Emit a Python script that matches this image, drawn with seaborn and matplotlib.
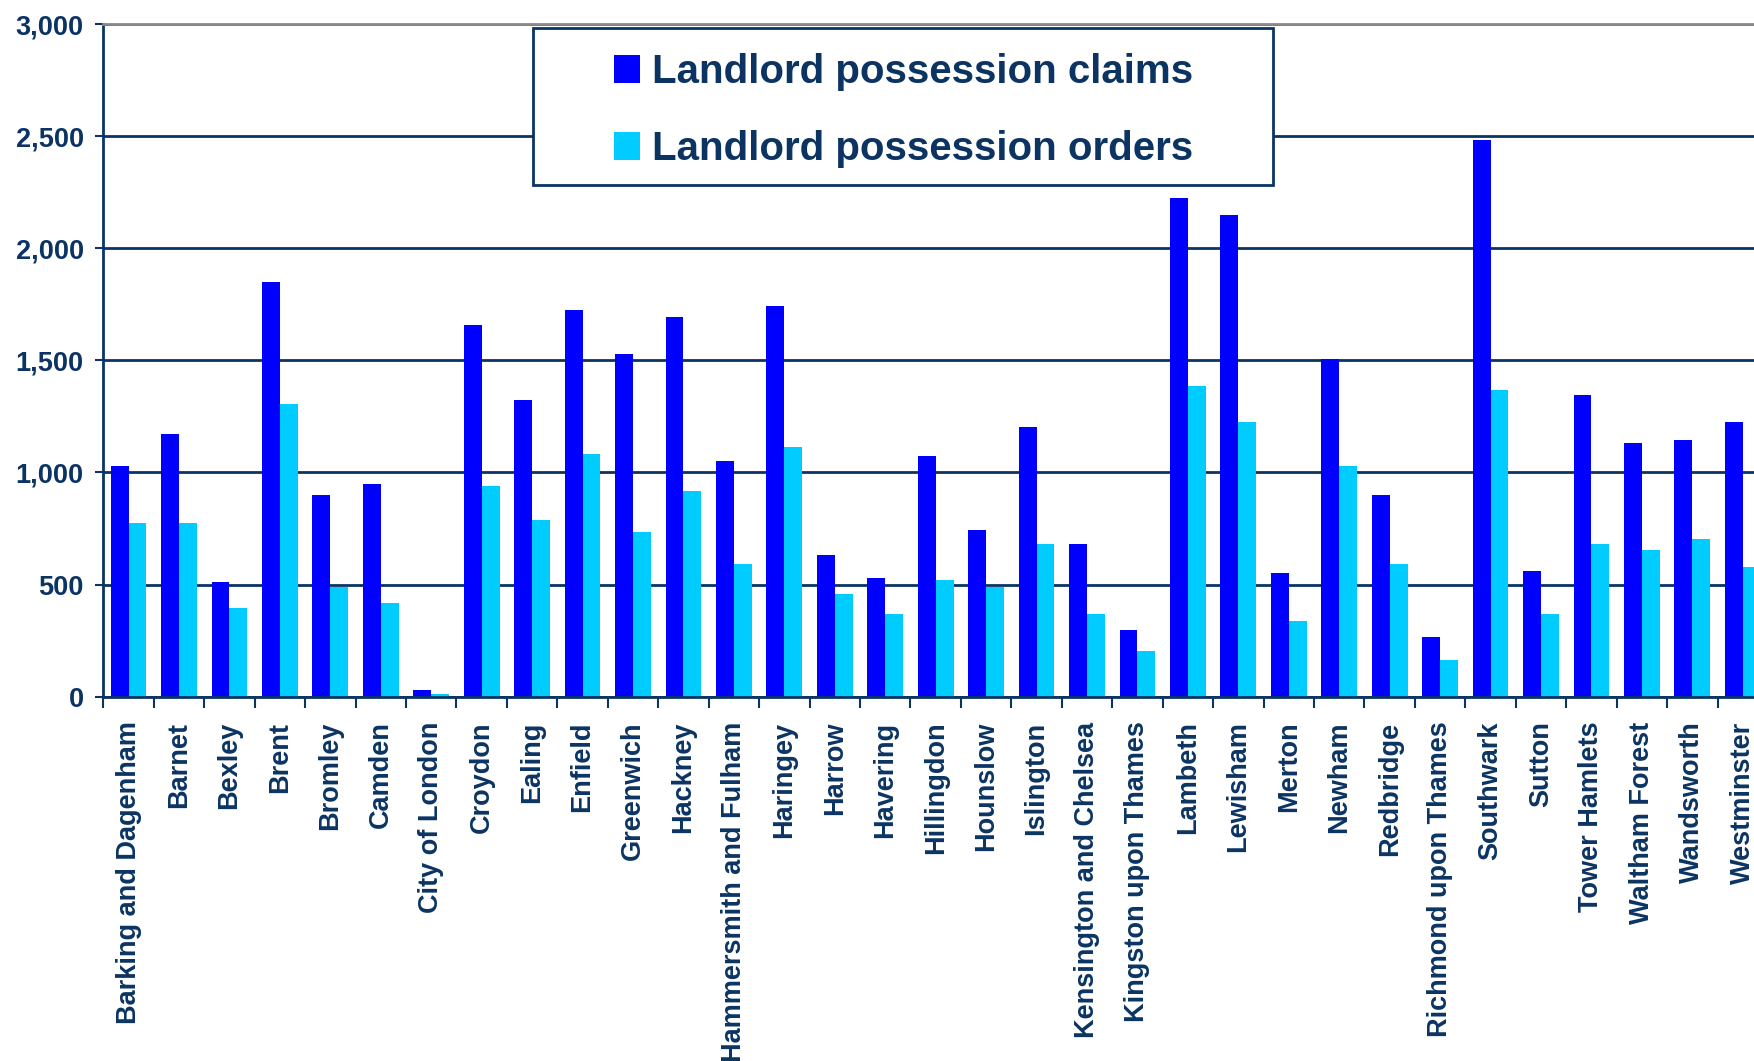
import matplotlib
matplotlib.use("Agg")
import matplotlib.pyplot as plt
from matplotlib.patches import Patch, Rectangle
from matplotlib.ticker import FixedLocator, StrMethodFormatter
import seaborn as sns
import pandas as pd

boroughs = [
    "Barking and Dagenham", "Barnet", "Bexley", "Brent", "Bromley", "Camden",
    "City of London", "Croydon", "Ealing", "Enfield", "Greenwich", "Hackney",
    "Hammersmith and Fulham", "Haringey", "Harrow", "Havering", "Hillingdon",
    "Hounslow", "Islington", "Kensington and Chelsea", "Kingston upon Thames",
    "Lambeth", "Lewisham", "Merton", "Newham", "Redbridge",
    "Richmond upon Thames", "Southwark", "Sutton", "Tower Hamlets",
    "Waltham Forest", "Wandsworth", "Westminster",
]
claims = [
    1027, 1171, 512, 1852, 898, 948, 29, 1660, 1324, 1723, 1527, 1693,
    1050, 1742, 630, 528, 1072, 743, 1201, 680, 297, 2223, 2151, 551,
    1508, 898, 266, 2485, 559, 1345, 1130, 1144, 1224,
]
orders = [
    776, 776, 395, 1304, 491, 418, 12, 939, 788, 1081, 733, 917,
    591, 1113, 456, 368, 520, 489, 680, 368, 203, 1384, 1224, 338,
    1027, 591, 164, 1367, 368, 680, 653, 702, 579,
]
series_names = ["Landlord possession claims", "Landlord possession orders"]
series_colors = ["#0000FF", "#00CCFF"]
yticks = [0, 500, 1000, 1500, 2000, 2500, 3000]

navy = "#0B3463"

df = pd.DataFrame({
    "Borough": boroughs * 2,
    "Cases": claims + orders,
    "Type": [series_names[0]] * len(boroughs) + [series_names[1]] * len(boroughs),
})

sns.set_theme(style="white")
plt.rcParams["font.family"] = ["Liberation Sans", "DejaVu Sans"]
plt.rcParams["font.weight"] = "bold"

fig = plt.figure(figsize=(17.54, 10.61), dpi=100)
ax = fig.add_axes([0.0589, 0.3435, 0.9491, 0.6336])

sns.barplot(
    data=df, x="Borough", y="Cases", hue="Type", order=boroughs,
    hue_order=series_names, palette=series_colors, saturation=1,
    width=0.71, dodge=True, ax=ax, legend=False, errorbar=None,
    edgecolor="none", linewidth=0,
)

ax.set_xlim(-0.5, len(boroughs) - 0.5)
ax.set_ylim(0, 3000)
ax.set_xlabel("")
ax.set_ylabel("")

# horizontal gridlines behind the bars
ax.set_axisbelow(True)
ax.yaxis.set_major_locator(FixedLocator(yticks))
ax.yaxis.set_major_formatter(StrMethodFormatter("{x:,.0f}"))
ax.grid(axis="y", color=navy, linewidth=2)
ax.grid(axis="x", visible=False)

for side in ["left", "bottom"]:
    ax.spines[side].set_color(navy)
    ax.spines[side].set_linewidth(2)
ax.spines["top"].set_color("#8A8A8A")
ax.spines["top"].set_linewidth(2)
ax.spines["right"].set_visible(False)

ax.tick_params(axis="y", which="major", left=True, length=6, width=1.5,
               color=navy, pad=8, labelsize=19.5, labelcolor=navy)
# category labels sit at the group centres; tick marks sit between groups
ax.set_xticks(range(len(boroughs)))
ax.set_xticklabels(boroughs, rotation=90, fontsize=19.5, color=navy,
                   fontweight="bold")
ax.tick_params(axis="x", which="major", length=0, pad=18)
ax.set_xticks([i - 0.5 for i in range(len(boroughs) + 1)], minor=True)
ax.tick_params(axis="x", which="minor", bottom=True, length=8, width=1.5,
               color=navy)
for lbl in ax.get_yticklabels():
    lbl.set_fontweight("bold")

# legend box
ax.add_patch(Rectangle((0.258, 0.7615), 0.4448, 0.2337, transform=ax.transAxes,
                       facecolor="white", edgecolor=navy, linewidth=2,
                       zorder=4, clip_on=False))
handles = [Patch(facecolor=c, edgecolor="none") for c in series_colors]
leg = ax.legend(handles, series_names, loc="center",
                bbox_to_anchor=(0.4805, 0.8712), frameon=False,
                prop={"family": "Liberation Sans", "weight": "bold", "size": 29},
                handlelength=0.65, handleheight=0.69, handletextpad=0.29,
                labelspacing=0.97, borderpad=0.2)
leg.set_zorder(5)
for t in leg.get_texts():
    t.set_color(navy)

fig.savefig("out.png", dpi=100)
